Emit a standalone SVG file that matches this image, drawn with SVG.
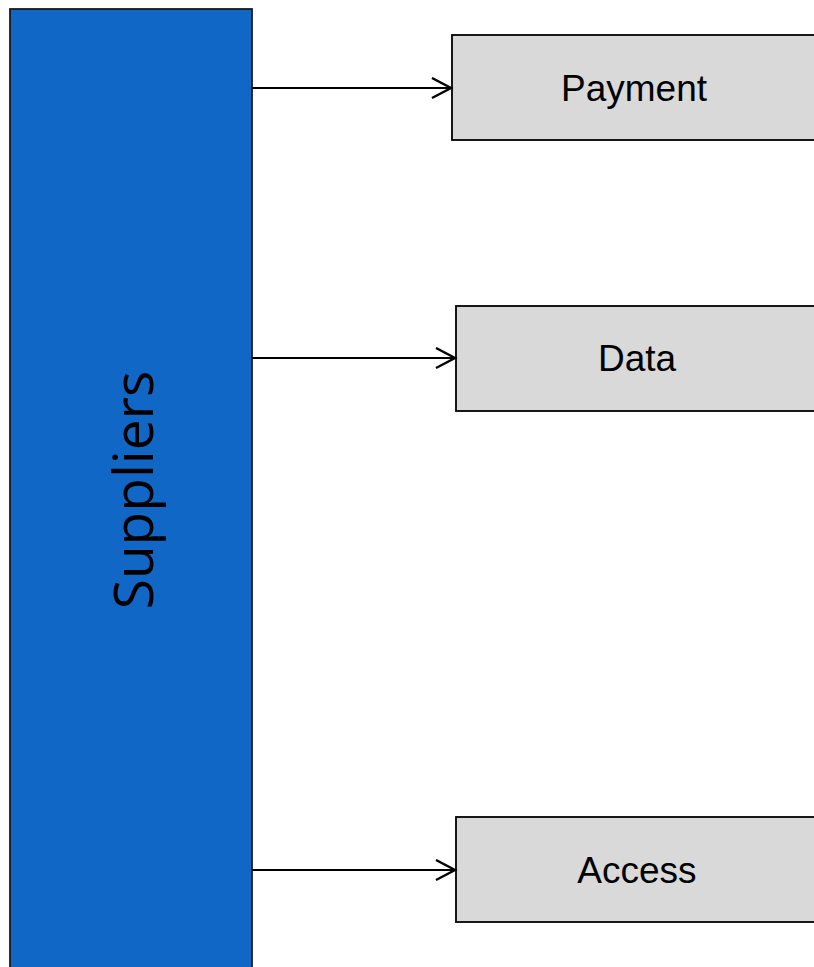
<svg xmlns="http://www.w3.org/2000/svg" width="814" height="967" viewBox="0 0 814 967">
<style>
.box{fill:#d9d9d9;stroke:#000;stroke-width:1.8}
.lbl{font-family:"Liberation Sans",Arial,sans-serif;font-size:37px;fill:#000;text-anchor:middle}
.conn{stroke:#000;stroke-width:2.2;fill:none}
</style>
<defs>
<marker id="arr" markerUnits="userSpaceOnUse" markerWidth="24" markerHeight="24" refX="20" refY="11" orient="auto">
<path d="M1,1 L20,11 L1,21" fill="none" stroke="#000" stroke-width="2.4"/>
</marker>
</defs>
<rect width="814" height="967" fill="#fff"/>
<g id="suppliers">
<rect x="10" y="9" width="242" height="962" fill="#1167c5" stroke="#1a1a1a" stroke-width="1.8"/>
<text transform="translate(153,490) rotate(-90)" font-family="'Open Sans',sans-serif" font-size="55" text-anchor="middle" fill="#000">Suppliers</text>
</g>
<g id="payment">
<rect class="box" x="452" y="35" width="366" height="105"/>
<text class="lbl" x="634" y="101">Payment</text>
</g>
<g id="data">
<rect class="box" x="456" y="306" width="366" height="105"/>
<text class="lbl" x="637" y="371">Data</text>
</g>
<g id="access">
<rect class="box" x="456" y="817" width="366" height="105"/>
<text class="lbl" x="637" y="883">Access</text>
</g>
<g id="connectors">
<line class="conn" x1="252" y1="88" x2="451" y2="88" marker-end="url(#arr)"/>
<line class="conn" x1="252" y1="358" x2="455" y2="358" marker-end="url(#arr)"/>
<line class="conn" x1="252" y1="870" x2="455" y2="870" marker-end="url(#arr)"/>
</g>
</svg>
